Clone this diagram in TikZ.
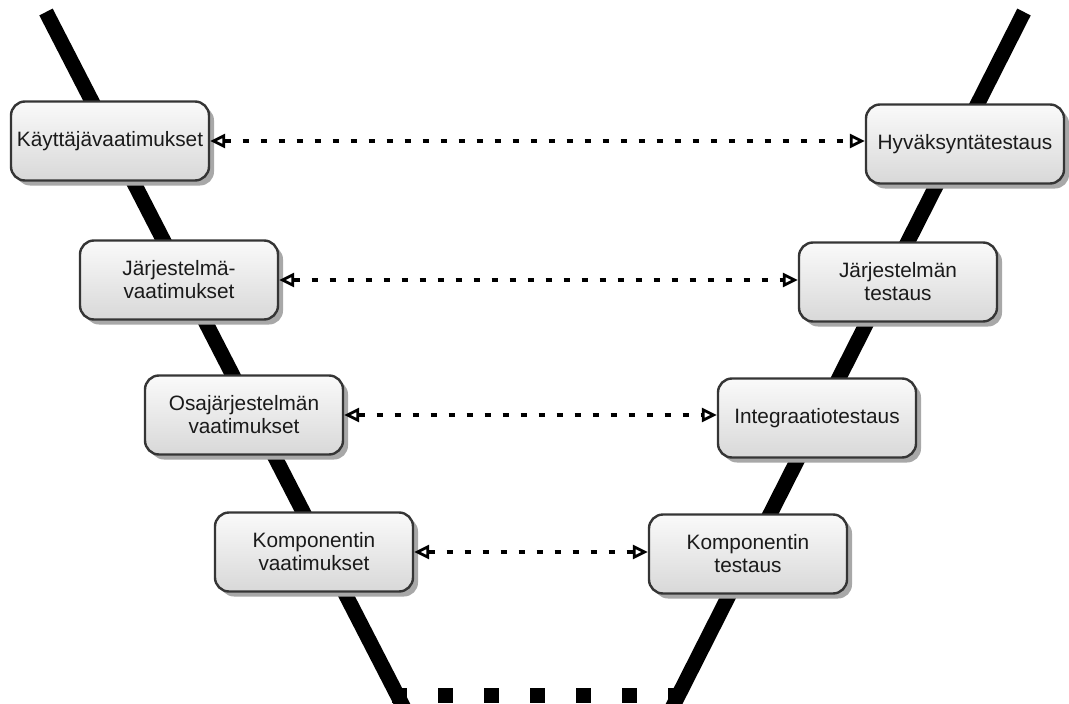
\documentclass[tikz,border=0pt]{standalone}
\usepackage{fontspec}
\setmainfont{Liberation Sans}
\usetikzlibrary{arrows.meta,shadows}
\definecolor{boxline}{HTML}{353535}
\definecolor{boxtop}{HTML}{FAFAFA}
\definecolor{boxbot}{HTML}{D8D8D8}
\definecolor{shadowgray}{HTML}{A8A8A8}
\definecolor{textdark}{HTML}{1A1A1A}
\begin{document}
\begin{tikzpicture}[x=1pt,y=-1pt,
  stage/.style={draw=boxline, line width=2.4pt, rounded corners=14pt,
    minimum width=198pt, minimum height=79pt, inner sep=0pt, align=center,
    top color=boxtop, bottom color=boxbot,
    drop shadow={shadow xshift=5pt, shadow yshift=-5pt, fill=shadowgray, opacity=1},
    font=\fontsize{20.8}{23}\selectfont, text=textdark},
  vline/.style={line width=15pt, line cap=butt},
  link/.style={line width=3.2pt, dash pattern=on 6pt off 12pt,
    {Triangle[open, length=15pt, width=14pt, line width=2.8pt]}-{Triangle[open, length=15pt, width=14pt, line width=2.8pt]}}
]
\useasboundingbox (0,0) rectangle (1069,704);

% the V: two thick arms joined by a dashed floor
\coordinate (ltop) at (46,12);
\coordinate (lbot) at (405,710);
\coordinate (rtop) at (1024,12);
\coordinate (rbot) at (671,710);
\coordinate (fl) at (392,695.5);
\coordinate (fr) at (683,695.5);
\begin{scope}
  \clip (0,0) rectangle (1069,703);
  \draw[vline] (ltop) -- (lbot);
  \draw[vline] (rtop) -- (rbot);
\end{scope}
\draw[line width=15pt, dash pattern=on 15pt off 31pt] (fl) -- (fr);

% stages
\node[stage] (ua)  at (110,141) {Käyttäjävaatimukset};
\node[stage] (at)  at (965,144) {Hyväksyntätestaus};
\node[stage] (sr)  at (179,280) {Järjestelmä-\\vaatimukset};
\node[stage] (st)  at (898,282) {Järjestelmän\\testaus};
\node[stage] (ssr) at (244,415) {Osajärjestelmän\\vaatimukset};
\node[stage] (it)  at (817,418) {Integraatiotestaus};
\node[stage] (cr)  at (314,552) {Komponentin\\vaatimukset};
\node[stage] (ct)  at (748,554) {Komponentin\\testaus};

% verification links
\draw[link] (ua.east)  -- (ua.east -| at.west);
\draw[link] (sr.east)  -- (sr.east -| st.west);
\draw[link] (ssr.east) -- (ssr.east -| it.west);
\draw[link] (cr.east)  -- (cr.east -| ct.west);
\end{tikzpicture}
\end{document}
